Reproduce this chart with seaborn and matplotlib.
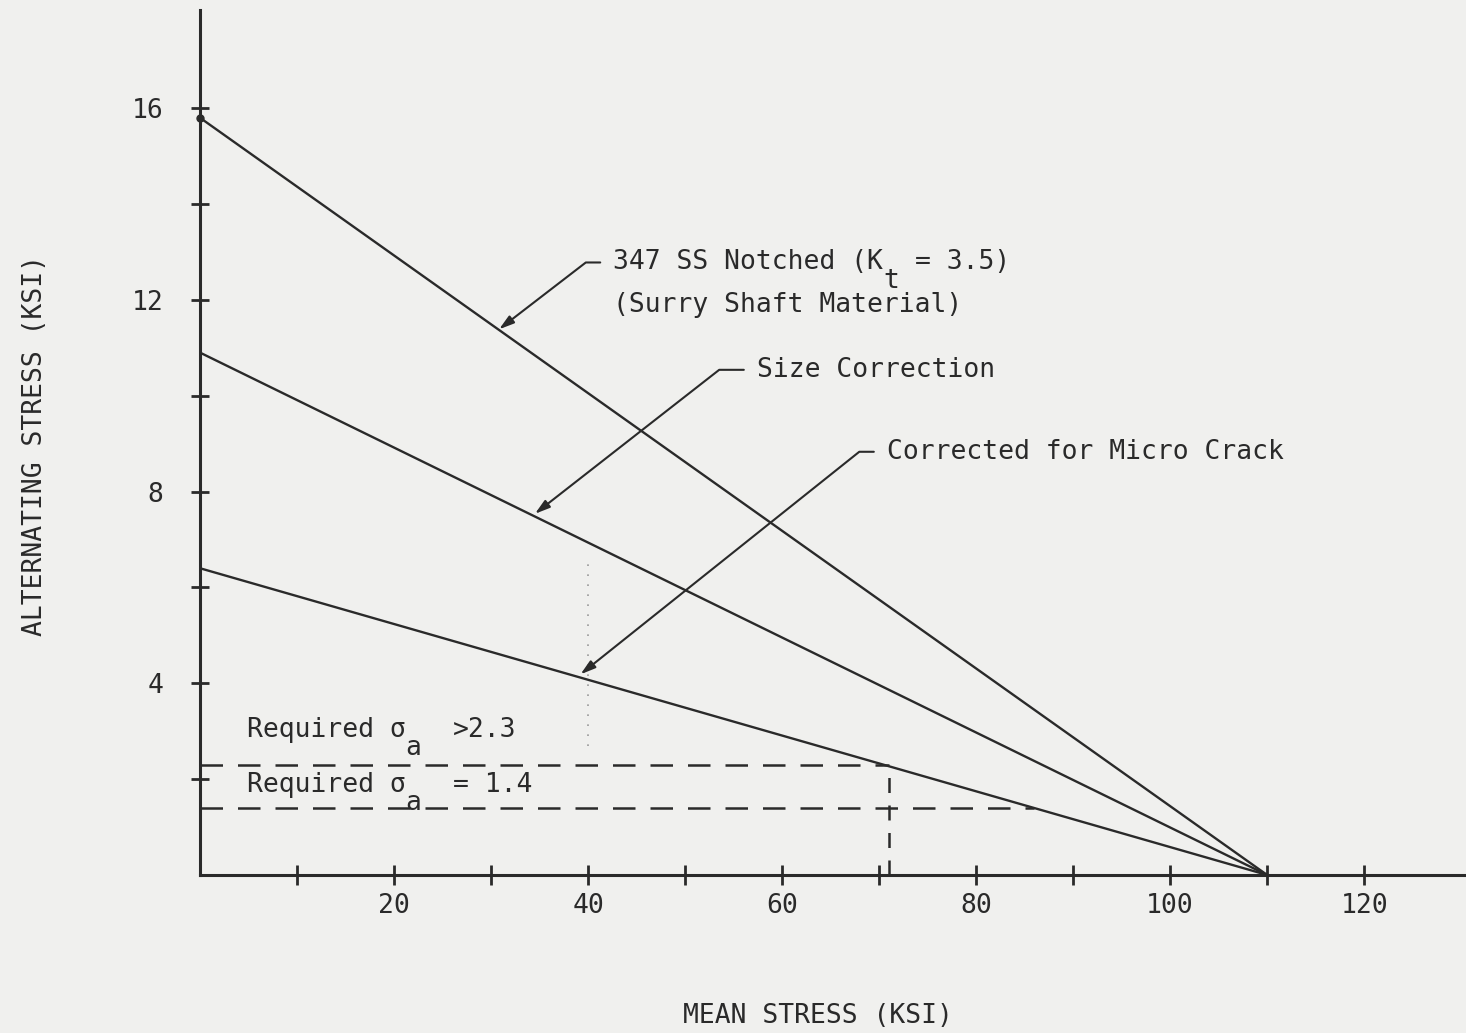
import numpy as np
import pandas as pd
import matplotlib
matplotlib.use('Agg')
import matplotlib.pyplot as plt
import seaborn as sns

# Values
mean_stress = [0, 110]
notched_347 = [15.8, 0.0]
size_corrected = [10.9, 0.0]
micro_crack = [6.4, 0.0]
curve_names = ['347 SS Notched', 'Size Correction', 'Corrected for Micro Crack']

required_sigma = [2.3, 1.4]
required_mean_end = [71, 86]
check_mean = [40, 40]
check_range = [2.7, 6.6]

x_major = [20, 40, 60, 80, 100, 120]
x_minor = [10, 30, 50, 70, 90, 110]
y_major = [4, 8, 12, 16]
y_minor = [2, 6, 10, 14]

ink = '#2a2a2a'
paper = '#f0f0ee'
fs = 19
cw = 0.602 * fs  # monospace char width in points

sns.set_style('white', {'axes.facecolor': paper, 'figure.facecolor': paper})
plt.rcParams['font.family'] = ['DejaVu Sans Mono', 'DejaVu Sans']

curves = pd.DataFrame({
    'mean': mean_stress * 3,
    'alt': notched_347 + size_corrected + micro_crack,
    'curve': np.repeat(curve_names, 2),
})

fig = plt.figure(figsize=(14.66, 10.33), dpi=100)
ax = fig.add_axes([0.1364, 0.153, 0.8636, 0.8374])

sns.lineplot(data=curves, x='mean', y='alt', hue='curve', palette=[ink] * 3,
             linewidth=1.7, legend=False, ax=ax)
ax.plot(mean_stress[0], notched_347[0], 'o', color=ink, markersize=5, clip_on=False)

# required alternating stress levels
dash = (0, (9, 6))
for y, xe in zip(required_sigma, required_mean_end):
    ax.plot([0, xe], [y, y], color=ink, lw=1.8, linestyle=dash)
ax.plot([required_mean_end[0]] * 2, [0, required_sigma[0]], color=ink, lw=1.8,
        linestyle=(0, (6, 5)))
ax.plot(check_mean, check_range, color='#9a9a9a', lw=1.2, linestyle=(0, (1, 5)))

ax.set_xlim(0, 130.5)
ax.set_ylim(0, 18.05)
ax.set_xticks(x_major)
ax.set_xticks(x_minor, minor=True)
ax.set_yticks(y_major)
ax.set_yticks(y_minor, minor=True)
ax.tick_params(which='both', bottom=True, left=True, direction='inout', length=14,
               width=2, color=ink, labelsize=fs, labelcolor=ink)
ax.tick_params(axis='y', which='both', length=13)
ax.tick_params(axis='x', pad=6)
ax.tick_params(axis='y', pad=20)
sns.despine(ax=ax)
for s in ['left', 'bottom']:
    ax.spines[s].set_linewidth(2.2)
    ax.spines[s].set_color(ink)

ax.set_xlabel('MEAN STRESS (KSI)', fontsize=fs, color=ink)
ax.set_ylabel('ALTERNATING STRESS (KSI)', fontsize=fs, color=ink)
ax.xaxis.set_label_coords(0.488, -0.148)
ax.yaxis.set_label_coords(-0.12, 0.497)

# leader annotations
arrow = dict(arrowstyle='-|>,head_length=0.6,head_width=0.18', color=ink, lw=1.5,
             shrinkA=7, shrinkB=2, mutation_scale=15, relpos=(0, 0.5))


def typed(x, y, parts, **kw):
    # pieces of one typed line; (text, column, lowered) so subscripts sit full size below
    for txt, col, low in parts:
        ax.annotate(txt, xy=(x, y), xytext=(col * cw, -13 if low else 0),
                    textcoords='offset points', ha='left', va='center',
                    fontsize=fs, color=ink, **kw)


ax.annotate('347 SS Notched (K', xy=(30.6, 11.35), xytext=(42.6, 12.78),
            ha='left', va='center', fontsize=fs, color=ink,
            arrowprops=dict(arrow, connectionstyle='angle,angleA=0,angleB=37.6,rad=0'))
typed(42.6, 12.78, [('t', 17, True), ('= 3.5)', 19, False)])
ax.text(42.6, 11.9, '(Surry Shaft Material)', ha='left', va='center', fontsize=fs, color=ink)

ax.annotate('Size Correction', xy=(34.3, 7.5), xytext=(57.4, 10.54),
            ha='left', va='center', fontsize=fs, color=ink,
            arrowprops=dict(arrow, connectionstyle='angle,angleA=0,angleB=38,rad=0'))

ax.annotate('Corrected for Micro Crack', xy=(39, 4.15), xytext=(70.8, 8.83),
            ha='left', va='center', fontsize=fs, color=ink,
            arrowprops=dict(arrow, connectionstyle='angle,angleA=0,angleB=38.6,rad=0'))

# required sigma_a labels
typed(4.8, 3.03, [('Required σ', 0, False), ('a', 10, True), ('>2.3', 13, False)])
typed(4.8, 1.88, [('Required σ', 0, False), ('a', 10, True), ('= 1.4', 13, False)])

fig.savefig('out.png', dpi=100, facecolor=paper)
